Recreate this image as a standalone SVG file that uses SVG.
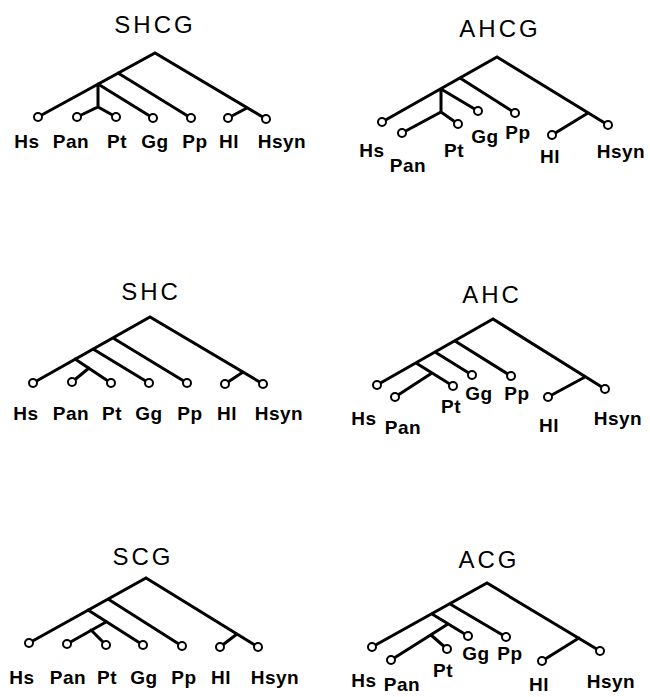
<svg xmlns="http://www.w3.org/2000/svg" width="650" height="697" viewBox="0 0 650 697">
<style>
.bg{fill:#fff}
.br{stroke:#000;stroke-width:3;stroke-linecap:round;fill:none}
.lf{fill:#fff;stroke:#000;stroke-width:2}
.ttl{font-family:"Liberation Sans",Arial,sans-serif;font-size:24px;letter-spacing:3px;text-anchor:middle;fill:#000}
.lb{font-family:"Liberation Sans",Arial,sans-serif;font-weight:bold;font-size:19px;letter-spacing:0.5px;text-anchor:middle;fill:#000}
</style>
<rect class="bg" x="0" y="0" width="650" height="697"/>
<g id="connectors" class="br">
<path d="M38,117 L155,53 L266,119 M118,73 L191,118 M98,84 L153,118 M98,84 L98,107 M77,117 L98,107 L116,117 M247,108 L228,118"/>
<path d="M382,122 L497,57 L608,125 M460,78 L515,113 M441,89 L478,111 M441,89 L441,112 M402,133 L441,112 L458,124 M588,113 L552,135"/>
<path d="M33,383 L150,317 L263,384 M113,338 L187,383 M93,349 L149,383 M75,359 L111,383 M89,368 L72,382 M243,372 L225,384"/>
<path d="M377,385 L493,319 L605,389 M455,341 L511,376 M435,352 L472,375 M416,363 L453,386 M432,373 L395,397 M585,377 L548,397"/>
<path d="M29,643 L146,578 L258,647 M108,599 L182,646 M88,610 L143,645 M106,622 L67,644 M91,630 L106,645 M237,634 L220,647"/>
<path d="M372,647 L487,583 L600,651 M450,604 L506,637 M432,614 L468,636 M448,624 L391,660 M431,635 L447,649 M579,638 L542,661"/>
</g>
<g id="tree-SHCG">
<text id="title-SHCG" class="ttl" x="155" y="33">SHCG</text>
<g id="SHCG-Hs"><circle class="lf" cx="38" cy="117" r="4"/><text class="lb" x="27" y="148">Hs</text></g>
<g id="SHCG-Pan"><circle class="lf" cx="77" cy="117" r="4"/><text class="lb" x="71" y="148">Pan</text></g>
<g id="SHCG-Pt"><circle class="lf" cx="116" cy="117" r="4"/><text class="lb" x="117" y="148">Pt</text></g>
<g id="SHCG-Gg"><circle class="lf" cx="153" cy="118" r="4"/><text class="lb" x="155" y="148">Gg</text></g>
<g id="SHCG-Pp"><circle class="lf" cx="191" cy="118" r="4"/><text class="lb" x="195" y="148">Pp</text></g>
<g id="SHCG-Hl"><circle class="lf" cx="228" cy="118" r="4"/><text class="lb" x="229" y="148">Hl</text></g>
<g id="SHCG-Hsyn"><circle class="lf" cx="266" cy="119" r="4"/><text class="lb" x="282" y="148">Hsyn</text></g>
</g>
<g id="tree-AHCG">
<text id="title-AHCG" class="ttl" x="500" y="37">AHCG</text>
<g id="AHCG-Hs"><circle class="lf" cx="382" cy="122" r="4"/><text class="lb" x="372" y="157">Hs</text></g>
<g id="AHCG-Pan"><circle class="lf" cx="402" cy="133" r="4"/><text class="lb" x="408" y="172">Pan</text></g>
<g id="AHCG-Pt"><circle class="lf" cx="458" cy="124" r="4"/><text class="lb" x="454" y="157">Pt</text></g>
<g id="AHCG-Gg"><circle class="lf" cx="478" cy="111" r="4"/><text class="lb" x="485" y="143">Gg</text></g>
<g id="AHCG-Pp"><circle class="lf" cx="515" cy="113" r="4"/><text class="lb" x="518" y="139">Pp</text></g>
<g id="AHCG-Hl"><circle class="lf" cx="552" cy="135" r="4"/><text class="lb" x="550" y="163">Hl</text></g>
<g id="AHCG-Hsyn"><circle class="lf" cx="608" cy="125" r="4"/><text class="lb" x="621" y="158">Hsyn</text></g>
</g>
<g id="tree-SHC">
<text id="title-SHC" class="ttl" x="151" y="300">SHC</text>
<g id="SHC-Hs"><circle class="lf" cx="33" cy="383" r="4"/><text class="lb" x="26" y="420">Hs</text></g>
<g id="SHC-Pan"><circle class="lf" cx="72" cy="382" r="4"/><text class="lb" x="71" y="420">Pan</text></g>
<g id="SHC-Pt"><circle class="lf" cx="111" cy="383" r="4"/><text class="lb" x="112" y="420">Pt</text></g>
<g id="SHC-Gg"><circle class="lf" cx="149" cy="383" r="4"/><text class="lb" x="149" y="420">Gg</text></g>
<g id="SHC-Pp"><circle class="lf" cx="187" cy="383" r="4"/><text class="lb" x="190" y="420">Pp</text></g>
<g id="SHC-Hl"><circle class="lf" cx="225" cy="384" r="4"/><text class="lb" x="227" y="420">Hl</text></g>
<g id="SHC-Hsyn"><circle class="lf" cx="263" cy="384" r="4"/><text class="lb" x="279" y="420">Hsyn</text></g>
</g>
<g id="tree-AHC">
<text id="title-AHC" class="ttl" x="492" y="303">AHC</text>
<g id="AHC-Hs"><circle class="lf" cx="377" cy="385" r="4"/><text class="lb" x="364" y="425">Hs</text></g>
<g id="AHC-Pan"><circle class="lf" cx="395" cy="397" r="4"/><text class="lb" x="403" y="434">Pan</text></g>
<g id="AHC-Pt"><circle class="lf" cx="453" cy="386" r="4"/><text class="lb" x="451" y="413">Pt</text></g>
<g id="AHC-Gg"><circle class="lf" cx="472" cy="375" r="4"/><text class="lb" x="479" y="400">Gg</text></g>
<g id="AHC-Pp"><circle class="lf" cx="511" cy="376" r="4"/><text class="lb" x="517" y="400">Pp</text></g>
<g id="AHC-Hl"><circle class="lf" cx="548" cy="397" r="4"/><text class="lb" x="549" y="432">Hl</text></g>
<g id="AHC-Hsyn"><circle class="lf" cx="605" cy="389" r="4"/><text class="lb" x="618" y="425">Hsyn</text></g>
</g>
<g id="tree-SCG">
<text id="title-SCG" class="ttl" x="143" y="565">SCG</text>
<g id="SCG-Hs"><circle class="lf" cx="29" cy="643" r="4"/><text class="lb" x="22" y="684">Hs</text></g>
<g id="SCG-Pan"><circle class="lf" cx="67" cy="644" r="4"/><text class="lb" x="68" y="684">Pan</text></g>
<g id="SCG-Pt"><circle class="lf" cx="106" cy="645" r="4"/><text class="lb" x="107" y="684">Pt</text></g>
<g id="SCG-Gg"><circle class="lf" cx="143" cy="645" r="4"/><text class="lb" x="144" y="684">Gg</text></g>
<g id="SCG-Pp"><circle class="lf" cx="182" cy="646" r="4"/><text class="lb" x="184" y="684">Pp</text></g>
<g id="SCG-Hl"><circle class="lf" cx="220" cy="647" r="4"/><text class="lb" x="221" y="684">Hl</text></g>
<g id="SCG-Hsyn"><circle class="lf" cx="258" cy="647" r="4"/><text class="lb" x="275" y="684">Hsyn</text></g>
</g>
<g id="tree-ACG">
<text id="title-ACG" class="ttl" x="489" y="568">ACG</text>
<g id="ACG-Hs"><circle class="lf" cx="372" cy="647" r="4"/><text class="lb" x="364" y="687">Hs</text></g>
<g id="ACG-Pan"><circle class="lf" cx="391" cy="660" r="4"/><text class="lb" x="402" y="691">Pan</text></g>
<g id="ACG-Pt"><circle class="lf" cx="447" cy="649" r="4"/><text class="lb" x="443" y="677">Pt</text></g>
<g id="ACG-Gg"><circle class="lf" cx="468" cy="636" r="4"/><text class="lb" x="476" y="660">Gg</text></g>
<g id="ACG-Pp"><circle class="lf" cx="506" cy="637" r="4"/><text class="lb" x="510" y="660">Pp</text></g>
<g id="ACG-Hl"><circle class="lf" cx="542" cy="661" r="4"/><text class="lb" x="539" y="691">Hl</text></g>
<g id="ACG-Hsyn"><circle class="lf" cx="600" cy="651" r="4"/><text class="lb" x="611" y="688">Hsyn</text></g>
</g>
</svg>
